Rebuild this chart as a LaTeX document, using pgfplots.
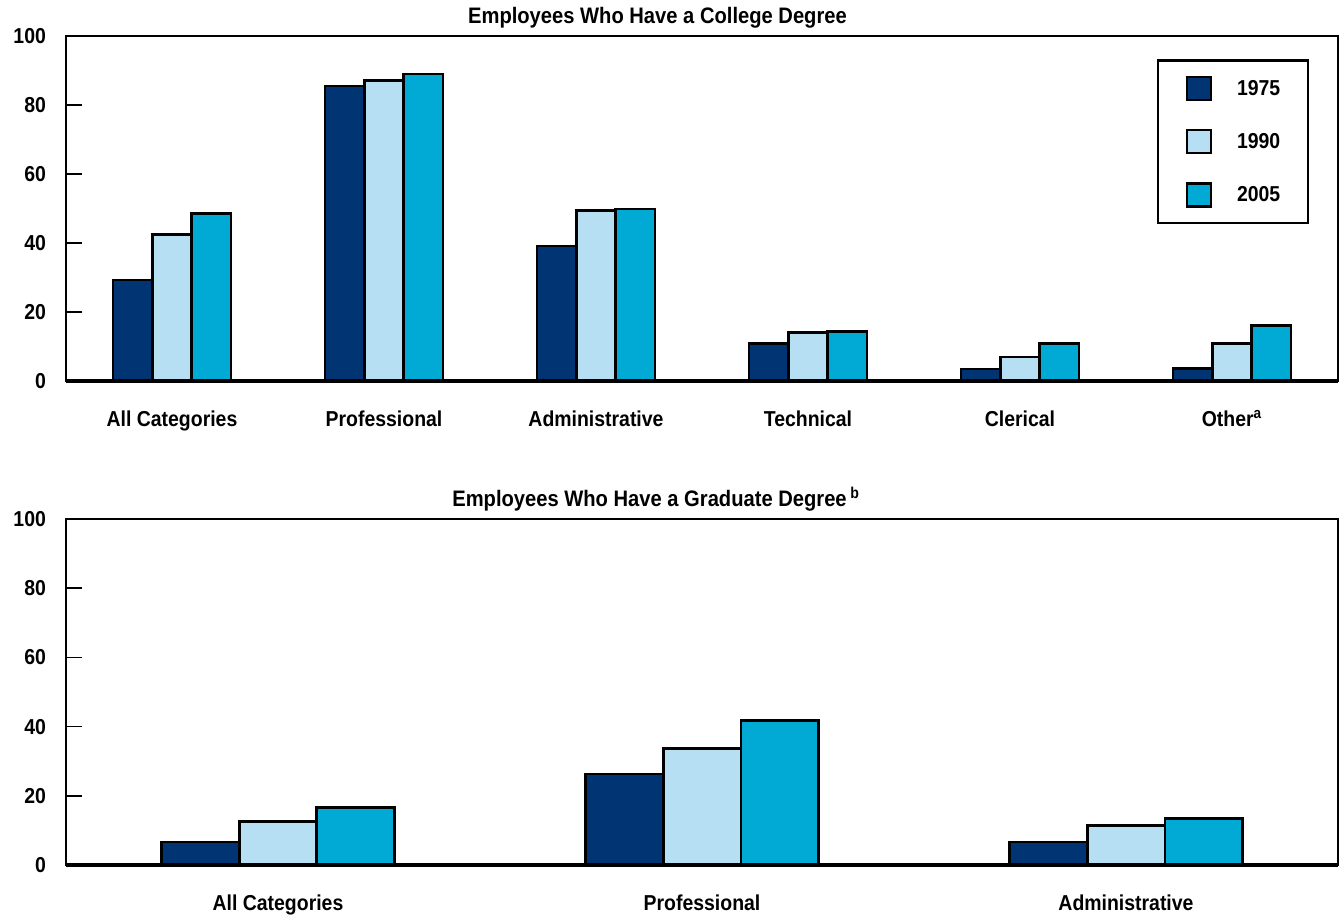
\documentclass[border=0pt]{standalone}
\usepackage{fontspec}
\setmainfont{Liberation Sans}[FakeStretch=0.9]
\usepackage{pgfplots}
\pgfplotsset{compat=1.18}
\definecolor{cNavy}{RGB}{0,52,115}
\definecolor{cLight}{RGB}{182,223,244}
\definecolor{cCyan}{RGB}{0,170,212}
\pgfplotsset{
  mybar/.style={
    scale only axis,
    width=636pt,
    ybar,
    ymin=0, ymax=100,
    ytick={0,20,40,60,80,100},
    ytick pos=left,
    tick align=inside,
    major tick length=8pt,
    ytick style={line width=0.8pt, black},
    xtick style={draw=none},
    axis line style={line width=1.3pt},
    /pgf/number format/assume math mode=true,
    ticklabel style={font=\bfseries\fontsize{10.8}{13}\selectfont},
    yticklabel style={xshift=-6.5pt},
    xticklabel style={text height=8pt, text depth=2.5pt, yshift=-11pt},
    after end axis/.code={\draw[line width=2pt] (rel axis cs:0,0) -- (rel axis cs:1,0);},
    legend image code/.code={\draw[#1, line width=1.2pt] (0pt,-5.35pt) rectangle (12pt,6.15pt);},
  }
}
\begin{document}
\begin{tikzpicture}
\begin{axis}[mybar,
  height=172.5pt,
  at={(0,0)}, anchor=north west,
  xmin=-0.5, xmax=5.5,
  bar width=0.185,
  xtick={0,1,2,3,4,5},
  xticklabels={All Categories, Professional, Administrative, Technical, Clerical, Other\textsuperscript{a}},
  title={Employees Who Have a College Degree},
  every axis title/.style={at={(0.465,1)}, anchor=base, yshift=6.2pt, inner sep=0pt, font=\bfseries\fontsize{11.2}{13}\selectfont},
  legend style={at={(1,1)}, anchor=north east, xshift=-14.5pt, yshift=-11.7pt,
    draw=black, line width=1.2pt, inner xsep=13.75pt, inner ysep=7.5pt, row sep=14pt,
    font=\bfseries\fontsize{10.8}{13}\selectfont, nodes={inner sep=0pt},
    /tikz/every odd column/.append style={column sep=12.5pt}},
  legend cell align=left,
]
\addplot[fill=cNavy, draw=black, line width=1.3pt, bar shift=-0.185] coordinates {(0,29.3) (1,85.5) (2,39.1) (3,10.9) (4,3.5) (5,3.7)};
\addplot[fill=cLight, draw=black, line width=1.3pt, bar shift=0] coordinates {(0,42.5) (1,87.1) (2,49.5) (3,14.1) (4,6.9) (5,10.8)};
\addplot[fill=cCyan, draw=black, line width=1.3pt, bar shift=0.185] coordinates {(0,48.6) (1,89.0) (2,49.8) (3,14.4) (4,10.9) (5,16.1)};
\legend{1975,1990,2005}
\end{axis}
\begin{axis}[mybar,
  height=173pt,
  at={(0,-241.5pt)}, anchor=north west,
  xmin=-0.5, xmax=2.5,
  bar width=0.183,
  xtick={0,1,2},
  xticklabels={All Categories, Professional, Administrative},
  title={Employees Who Have a Graduate Degree\,\textsuperscript{b}},
  every axis title/.style={at={(0.464,1)}, anchor=base, yshift=6.5pt, inner sep=0pt, font=\bfseries\fontsize{11.2}{13}\selectfont},
]
\addplot[fill=cNavy, draw=black, line width=1.3pt, bar shift=-0.183] coordinates {(0,6.6) (1,26.3) (2,6.7)};
\addplot[fill=cLight, draw=black, line width=1.3pt, bar shift=0] coordinates {(0,12.6) (1,33.7) (2,11.4)};
\addplot[fill=cCyan, draw=black, line width=1.3pt, bar shift=0.183] coordinates {(0,16.6) (1,41.7) (2,13.4)};
\end{axis}
\pgfresetboundingbox
\useasboundingbox (-33pt,18pt) rectangle (637pt,-439.5pt);
\end{tikzpicture}
\end{document}
